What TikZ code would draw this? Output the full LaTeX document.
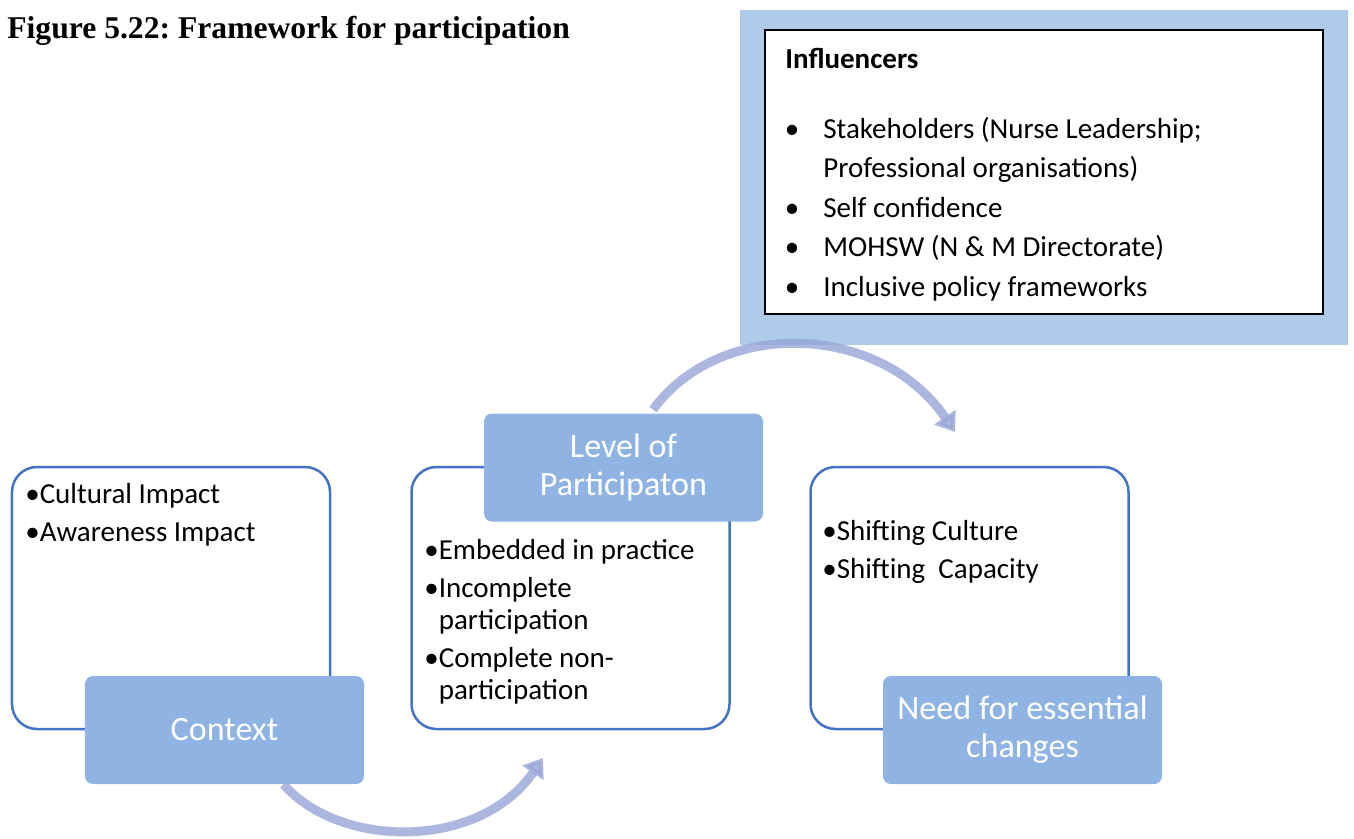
\documentclass[tikz,border=0pt]{standalone}
\usepackage{fontspec}
\setmainfont{Carlito}
\newfontfamily\figfont{Liberation Serif}
\usetikzlibrary{arrows.meta,calc}
\definecolor{edge}{RGB}{68,114,196}
\definecolor{tab}{RGB}{143,180,227}
\definecolor{inf}{RGB}{174,204,234}
\definecolor{arc}{RGB}{150,165,215}
\tikzset{bx/.style={draw=edge, line width=0.5mm, rounded corners=5mm, fill=white, minimum width=63.6mm, minimum height=52.4mm},
  tb/.style={fill=tab, rounded corners=1.6mm, minimum width=55.8mm, minimum height=21.6mm, text=white, align=center, font=\fontsize{19.4}{21.6}\selectfont},
  it/.style={anchor=base west, inner sep=0pt, align=left, font=\fontsize{16.5}{18.1}\selectfont},
  flow/.style={line width=1.8mm, draw=arc, opacity=0.8, -{Triangle[width=5mm, length=3.6mm]}}}

\begin{document}
\begin{tikzpicture}[x=0.2mm, y=-0.2mm]
  \useasboundingbox (0,0) rectangle (1354,838);
  % title
  \node[anchor=base west, inner sep=0pt, font=\figfont\fontsize{18}{20}\selectfont\bfseries\frenchspacing] (ttl) at (7,38) {Figure 5.22: Framework for participation};
  % influencers panel (lists sit on their last baseline)
  \node[fill=inf, minimum width=121.6mm, minimum height=67mm] (ibg) at (1044,177.5) {};
  \node[draw, line width=0.3mm, fill=white, minimum width=111.6mm, minimum height=56.8mm] (ibx) at (1044,172) {};
  \node[it, font=\fontsize{16.5}{18.1}\selectfont\bfseries] (ihd) at (785,68) {Influencers};
  \node[it, font=\fontsize{16.5}{22.4}\selectfont] (ils) at (823,296) {\llap{•\hspace{4.8mm}}Stakeholders (Nurse Leadership;\\Professional organisations)\\\llap{•\hspace{4.8mm}}Self confidence\\\llap{•\hspace{4.8mm}}MOHSW (N \& M Directorate)\\\llap{•\hspace{4.8mm}}Inclusive policy frameworks};
  % outline boxes
  \foreach \x/\i in {171/1,570.5/2,969.5/3}{
    \node[bx] (b\i) at (\x,598) {};}
  % bullet texts
  \node[it] (t1) at (25,541) {•Cultural Impact\\[3.4pt]•Awareness Impact};
  \node[it] (t2) at (424,699) {•Embedded in practice\\[3.4pt]•Incomplete\\\phantom{•}participation\\[3.4pt]•Complete non-\\\phantom{•}participation};
  \node[it] (t3) at (822,578) {•Shifting Culture\\[3.4pt]•Shifting\ \ Capacity};
  % step headings
  \node[tb] (ctx) at (224.5,730) {Context};
  \node[tb] (lvl) at (623.5,467.5) {Level of\\Participaton};
  \node[tb] (need) at (1022.5,730) {Need for essential\\changes};
  % arrows between steps
  \coordinate (e1) at (543,758);
  \coordinate (e2) at (955,432);
  \draw[flow] ($(ctx.south)+(59,0)$) .. controls +(57,65) and +(-63,92) .. (e1);
  \draw[flow] ($(lvl.north)+(29.5,-3.5)$) .. controls +(67,-92) and +(-75,-110) .. (e2);
\end{tikzpicture}
\end{document}
